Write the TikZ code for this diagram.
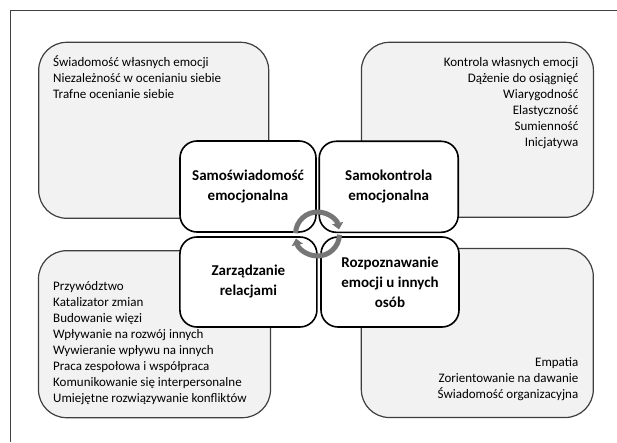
\documentclass[tikz,border=0pt]{standalone}
\usepackage{fontspec}
\setmainfont{Carlito}
\usetikzlibrary{arrows.meta}
\definecolor{panelfill}{HTML}{F2F2F2}
\definecolor{panelline}{HTML}{3F3F3F}
\definecolor{cyclegray}{HTML}{767676}
\definecolor{framegray}{HTML}{404040}

\begin{document}
\begin{tikzpicture}[x=1pt,y=1pt,
  panel/.style={draw=panelline, line width=1.2pt, fill=panelfill, rounded corners=28pt, inner sep=0pt},
  core/.style={draw=black, line width=1.6pt, fill=white, rounded corners=17pt, inner sep=2pt,
    align=center, font=\fontsize{15}{20}\selectfont\bfseries},
  listtext/.style={inner sep=0pt, font=\fontsize{13}{16}\selectfont},
  cyclearrow/.style={draw=cyclegray, line width=5pt, -{Triangle[width=11pt,length=6.5pt]}}
]
\useasboundingbox (0,0) rectangle (617,442);

% page frame (top and left edges)
\draw[framegray, line width=0.8pt] (10,0) -- (10,432) -- (617,432);

% outer panels
\node[panel, minimum width=230pt, minimum height=176pt] (selfpanel) at (153.7,311.7) {};
\node[panel, minimum width=232pt, minimum height=175pt] (ctrlpanel) at (477.4,312.2) {};
\node[panel, minimum width=232pt, minimum height=167pt] (relpanel) at (154.5,107.8) {};
\node[panel, minimum width=232pt, minimum height=169pt] (empanel) at (477.3,109) {};

% central competence boxes
\node[core, minimum width=136pt, minimum height=91pt] (self) at (248,255.5) {Samoświadomość\\emocjonalna};
\node[core, minimum width=139pt, minimum height=91pt] (ctrl) at (388.7,255.2) {Samokontrola\\emocjonalna};
\node[core, minimum width=137pt, minimum height=90pt] (rel) at (248.4,160) {Zarządzanie\\relacjami};
\node[core, minimum width=138pt, minimum height=90pt] (emp) at (390,160) {Rozpoznawanie\\emocji u innych\\osób};

% cycle arrows in the middle
\coordinate (hub) at (317.5,208);
\draw[cyclearrow] ([shift={(178:22)}]hub) arc[start angle=178, end angle=12, radius=22];
\draw[cyclearrow] ([shift={(-2:22)}]hub) arc[start angle=-2, end angle=-168, radius=22];

% lists of skills
\node[listtext, anchor=north west, align=left] (selflist) at (53,386.5)
  {\strut Świadomość własnych emocji\\Niezależność w ocenianiu siebie\\Trafne ocenianie siebie};
\node[listtext, anchor=north east, align=right] (ctrllist) at (578.5,386.5)
  {\strut Kontrola własnych emocji\\Dążenie do osiągnięć\\Wiarygodność\\Elastyczność\\Sumienność\\Inicjatywa};
\node[listtext, anchor=north west, align=left] (rellist) at (53,162.5)
  {\strut Przywództwo\\Katalizator zmian\\Budowanie więzi\\Wpływanie na rozwój innych\\Wywieranie wpływu na innych\\Praca zespołowa i współpraca\\Komunikowanie się interpersonalne\\Umiejętne rozwiązywanie konfliktów};
\node[listtext, anchor=north east, align=right] (emplist) at (578.5,86.9)
  {\strut Empatia\\Zorientowanie na dawanie\\Świadomość organizacyjna};
\end{tikzpicture}
\end{document}
